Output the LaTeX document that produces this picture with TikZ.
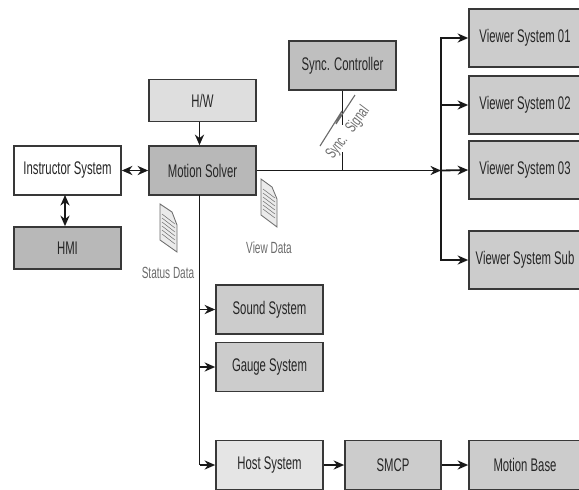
\documentclass[tikz,border=0pt]{standalone}
\usepackage{fontspec}
\setmainfont[FakeStretch=0.62]{Liberation Sans}
\usetikzlibrary{positioning,arrows.meta,calc}

\definecolor{boxdark}{gray}{0.72}
\definecolor{boxmid}{gray}{0.8}
\definecolor{boxlight}{gray}{0.87}
\definecolor{boxpale}{gray}{0.9}
\definecolor{edgegray}{gray}{0.22}
\definecolor{notegray}{gray}{0.42}

\tikzset{
	sysbox/.style={draw=edgegray,line width=1.2pt,inner sep=0pt,minimum width=2.675cm,minimum height=1.225cm,font=\fontsize{13}{15}\selectfont,text=black!85},
	shortbox/.style={sysbox,minimum height=1.05cm},
	viewbox/.style={sysbox,fill=boxmid,minimum width=2.8cm,minimum height=1.45cm},
	notelabel/.style={font=\fontsize{11.5}{13}\selectfont,text=notegray},
	link/.style={line width=1.3pt,black!90},
	docpage/.style={draw=notegray,fill=black!8,line width=0.6pt},
	docline/.style={draw=notegray,line width=0.35pt}
}

\begin{document}
\begin{tikzpicture}[x=0.025cm,y=-0.025cm,>={Stealth[length=7.5pt,width=6.5pt]}]
		
		\useasboundingbox (0,0) rectangle (579,489);
		
		% Left column
		\node[sysbox,fill=white] (instructor) at (67.5,170.5){Instructor System};
		\node[shortbox,fill=boxdark] (hmi) at (67.5,248){HMI};
		
		% Centre
		\node[shortbox,fill=boxlight] (hw) at (202.5,100.5){H/W};
		\node[sysbox,fill=boxdark] (motion) at (202.5,170.5){Motion Solver};
		\node[sysbox,fill=boxdark!90!white] (sync) at (342.5,65.5){Sync. Controller};
		
		% Viewers
		\node[viewbox] (view01) at (525,38){Viewer System 01};
		\node[viewbox] (view02) at (525,105){Viewer System 02};
		\node[viewbox] (view03) at (525,170){Viewer System 03};
		\node[viewbox] (viewsub) at (525,260){Viewer System Sub};
		
		% Lower row
		\node[sysbox,fill=boxmid] (sound) at (269.5,309.5){Sound System};
		\node[sysbox,fill=boxmid] (gauge) at (269.5,367){Gauge System};
		\node[sysbox,fill=boxpale] (host) at (269.5,465){Host System};
		\node[sysbox,fill=boxmid,minimum width=2.4cm] (smcp) at (393,465){SMCP};
		\node[viewbox,minimum height=1.225cm] (base) at (525,465){Motion Base};
		
		% Link points
		\coordinate (trunk) at (199.5,195);
		\coordinate (bus) at (441,170.5);
		\coordinate (hmilink) at (65,195);
		\coordinate (synctop) at (342.5,125);
		\coordinate (syncfoot) at (342.5,152);
		\coordinate (syncbus) at (342.5,170.5);
		
		% Links
		\draw[link,<->] (instructor.east)--(motion.west);
		\draw[link,<->] (hmilink)--(hmilink|-hmi.north);
		\draw[link,->] (trunk|-hw.south)--(trunk|-motion.north);
		\draw[link,->] (motion.east)--(bus);
		\draw[link,->] (bus)--(view03.west);
		\draw[link,->] (bus)|-(view01.west);
		\draw[link,->] (bus)|-(view02.west);
		\draw[link,->] (bus)|-(viewsub.west);
		\draw[link] (sync.south)--(synctop);
		\draw[link] (syncfoot)--(syncbus);
		\draw[link] (trunk)--(trunk|-host.west);
		\draw[link,->] (trunk|-sound.west)--(sound.west);
		\draw[link,->] (trunk|-gauge.west)--(gauge.west);
		\draw[link,->] (trunk|-host.west)--(host.west);
		\draw[link,->] (host.east)--(smcp.west);
		\draw[link,->] (smcp.east)--(base.west);
		
		% Signal bolt
		\draw[notegray,line width=0.8pt]
		(355,95)--(336,124)--(342,111)--(320,146);
		\node[notelabel,rotate=53] (signal) at (348,133){Sync.\hspace{3pt} Signal};
		
		% Status page
		\draw[docpage] (160,204)--(172,212)--(177,225)--(177,252)--(160,240)--cycle;
		\foreach \k in {0,1,...,5}
		\draw[docline] (162,{214+\k*4})--(175,{224+\k*4});
		\node[notelabel] (status) at (168,273){Status Data};
		
		% View page
		\draw[docpage] (261,179)--(272,187)--(277,199)--(277,227)--(261,215)--cycle;
		\foreach \k in {0,1,...,5}
		\draw[docline] (263,{189+\k*4})--(275,{198+\k*4});
		\node[notelabel] (viewdata) at (269,248){View Data};
		
	\end{tikzpicture}
\end{document}
